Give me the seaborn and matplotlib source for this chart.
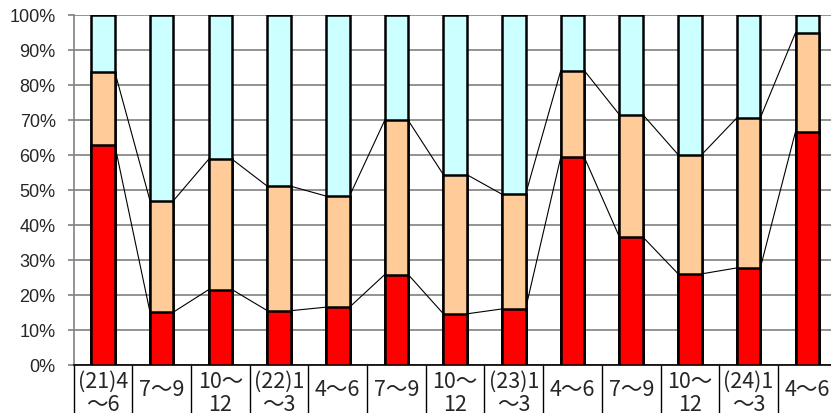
import numpy as np
import matplotlib
matplotlib.use('Agg')
import matplotlib.pyplot as plt
import seaborn as sns

sns.set_style('white')
plt.rcParams['font.family'] = ['Liberation Sans', 'DejaVu Sans']

# quarters (x labels, two lines where the original wraps)
periods = ['(21)4\n～6', '7～9', '10～\n12', '(22)1\n～3', '4～6', '7～9',
           '10～\n12', '(23)1\n～3', '4～6', '7～9', '10～\n12',
           '(24)1\n～3', '4～6']
# shares in percent
red_share = [62.8, 15.1, 21.5, 15.5, 16.5, 25.8, 14.6, 16.0, 59.3, 36.5,
             26.0, 27.7, 66.6]
orange_share = [20.9, 31.8, 37.2, 35.5, 31.7, 44.0, 39.7, 32.7, 24.7, 34.9,
                34.0, 42.8, 28.2]
cyan_share = [100 - r - o for r, o in zip(red_share, orange_share)]

red_col = '#FF0000'
orange_col = '#FFCC99'
cyan_col = '#CCFFFF'

slots = np.arange(len(periods))
red_top = np.array(red_share)
orange_top = red_top + np.array(orange_share)
cyan_top = orange_top + np.array(cyan_share)

fig = plt.figure(figsize=(8.31, 4.14), dpi=100)
ax_h = 350.5
ax = fig.add_axes([73.7 / 831, 48 / 414, 762.9 / 831, ax_h / 414])

bw = 0.4
kw = dict(width=bw, edgecolor='black', linewidth=1.8, saturation=1, ax=ax,
          zorder=3)
sns.barplot(x=slots, y=cyan_top, color=cyan_col, **kw)
sns.barplot(x=slots, y=orange_top, color=orange_col, **kw)
sns.barplot(x=slots, y=red_top, color=red_col, **kw)

# series lines between bar segments
for tops in [red_top, orange_top]:
    for i in range(len(slots) - 1):
        ax.plot([slots[i] + bw / 2, slots[i + 1] - bw / 2],
                [tops[i], tops[i + 1]], color='black', lw=0.8, zorder=2)

ax.set_xlim(-0.5, len(periods) - 0.5)
ax.set_ylim(0, 100)
ax.set_yticks(range(0, 101, 10))
ax.set_yticklabels(['{}%'.format(v) for v in range(0, 101, 10)], fontsize=13)
ax.yaxis.grid(True, color='#808080', lw=1.2)
ax.set_axisbelow(True)

ax.set_xticks(np.arange(-0.5, len(periods), 1))
ax.set_xticklabels([])
ax.tick_params(axis='x', which='major', length=36, width=1, color='black',
               direction='out', bottom=True)
ax.tick_params(axis='y', length=4, width=1.2, color='#808080',
               direction='out', left=True, pad=9)
ax.set_xlabel('')
ax.set_ylabel('')

for s in ['top', 'right']:
    ax.spines[s].set_visible(False)
ax.spines['left'].set_color('#808080')
ax.spines['left'].set_linewidth(1.2)
ax.spines['bottom'].set_color('black')
ax.spines['bottom'].set_linewidth(1.2)

trans = ax.get_xaxis_transform()
for x, lab in zip(slots, periods):
    off = 27.5 if '\n' in lab else 24
    ax.text(x, -off / ax_h, lab, transform=trans, ha='center', va='center',
            fontsize=15.5, linespacing=1.05,
            family=['Noto Sans CJK JP', 'DejaVu Sans'], clip_on=False)

fig.savefig('out.png', dpi=100)
